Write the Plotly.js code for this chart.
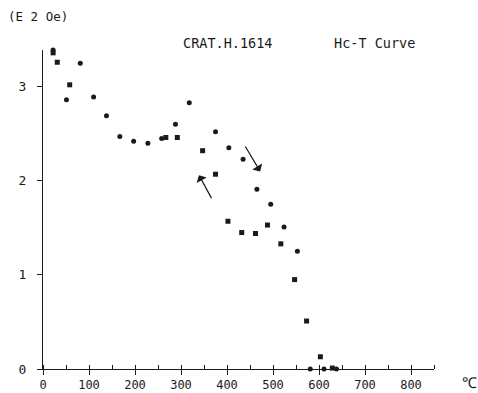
<!DOCTYPE html>
<html>
<head>
<meta charset="utf-8">
<script src="https://cdn.plot.ly/plotly-3.0.1.min.js"></script>
<style>html,body{margin:0;padding:0;background:#fff;}#chart{width:478px;height:393px;}</style>
</head>
<body>
<div id="chart"></div>
<script>
// Heating (circles)
var heatT  = [22, 51, 81, 110, 138, 167, 197, 228, 258, 288, 318, 375, 404, 435, 465, 495, 524, 553, 581, 611, 638];
var heatHc = [3.39, 2.86, 3.25, 2.89, 2.69, 2.47, 2.42, 2.40, 2.45, 2.60, 2.83, 2.52, 2.35, 2.23, 1.91, 1.75, 1.51, 1.25, 0.0, 0.0, 0.0];
// Cooling (squares)
var coolT  = [22, 31, 58, 267, 292, 347, 375, 402, 432, 462, 488, 517, 547, 573, 603, 629];
var coolHc = [3.36, 3.26, 3.02, 2.46, 2.46, 2.32, 2.07, 1.57, 1.45, 1.44, 1.53, 1.33, 0.95, 0.51, 0.13, 0.01];
// Arrows: [tailT, tailHc, headT, headHc]
var arrowDown = [438, 2.38, 472, 2.10];
var arrowUp   = [368, 1.80, 339, 2.06];
var xTickVals = [0, 100, 200, 300, 400, 500, 600, 700, 800];
var yTickVals = [0, 1, 2, 3];

var FONT = 'DejaVu Sans Mono, monospace';
var ink = '#1a1a1a';

var traces = [
  {x: heatT, y: heatHc, mode: 'markers', type: 'scatter', name: 'heating',
   marker: {symbol: 'circle', size: 5, color: ink}, cliponaxis: false},
  {x: coolT, y: coolHc, mode: 'markers', type: 'scatter', name: 'cooling',
   marker: {symbol: 'square', size: 5, color: ink}, cliponaxis: false}
];

function arrow(a) {
  return {x: a[2], y: a[3], ax: a[0], ay: a[1], xref: 'x', yref: 'y', axref: 'x', ayref: 'y',
          text: '', showarrow: true, arrowhead: 1, arrowsize: 1.6, arrowwidth: 1.2, arrowcolor: ink};
}

var layout = {
  width: 478, height: 393,
  margin: {l: 43, r: 44, t: 50, b: 24},
  paper_bgcolor: '#fff', plot_bgcolor: '#fff',
  showlegend: false,
  font: {family: FONT, size: 12, color: ink},
  xaxis: {
    range: [0, 850], showgrid: false, zeroline: false,
    showline: true, linecolor: ink, linewidth: 1,
    tickmode: 'array', tickvals: xTickVals,
    ticks: 'outside', ticklen: 5, tickcolor: ink,
    minor: {dtick: 50, tick0: 0, ticks: 'inside', ticklen: 4, tickcolor: ink, showgrid: false},
    tickfont: {family: FONT, size: 12, color: ink}
  },
  yaxis: {
    range: [0, 3.39], showgrid: false, zeroline: false,
    showline: true, linecolor: ink, linewidth: 1,
    tickmode: 'array', tickvals: yTickVals,
    ticks: 'outside', ticklen: 5, tickcolor: ink,
    ticklabelstandoff: 8,
    tickfont: {family: FONT, size: 13, color: ink}
  },
  annotations: [
    {text: '(E 2 Oe)', xref: 'paper', yref: 'paper', x: -0.095, y: 1.106, xanchor: 'left', yanchor: 'middle', showarrow: false, font: {family: FONT, size: 12.5, color: ink}},
    {text: 'CRAT.H.1614', xref: 'paper', yref: 'paper', x: 0.352, y: 1.022, xanchor: 'left', yanchor: 'middle', showarrow: false, font: {family: FONT, size: 13.5, color: ink}},
    {text: 'Hc-T Curve', xref: 'paper', yref: 'paper', x: 0.740, y: 1.022, xanchor: 'left', yanchor: 'middle', showarrow: false, font: {family: FONT, size: 13.5, color: ink}},
    {text: '℃', xref: 'paper', yref: 'paper', x: 1.092, y: -0.044, xanchor: 'center', yanchor: 'middle', showarrow: false, font: {family: FONT, size: 15, color: ink}},
    arrow(arrowDown),
    arrow(arrowUp)
  ]
};

Plotly.newPlot('chart', traces, layout, {displayModeBar: false, staticPlot: true});
</script>
</body>
</html>
